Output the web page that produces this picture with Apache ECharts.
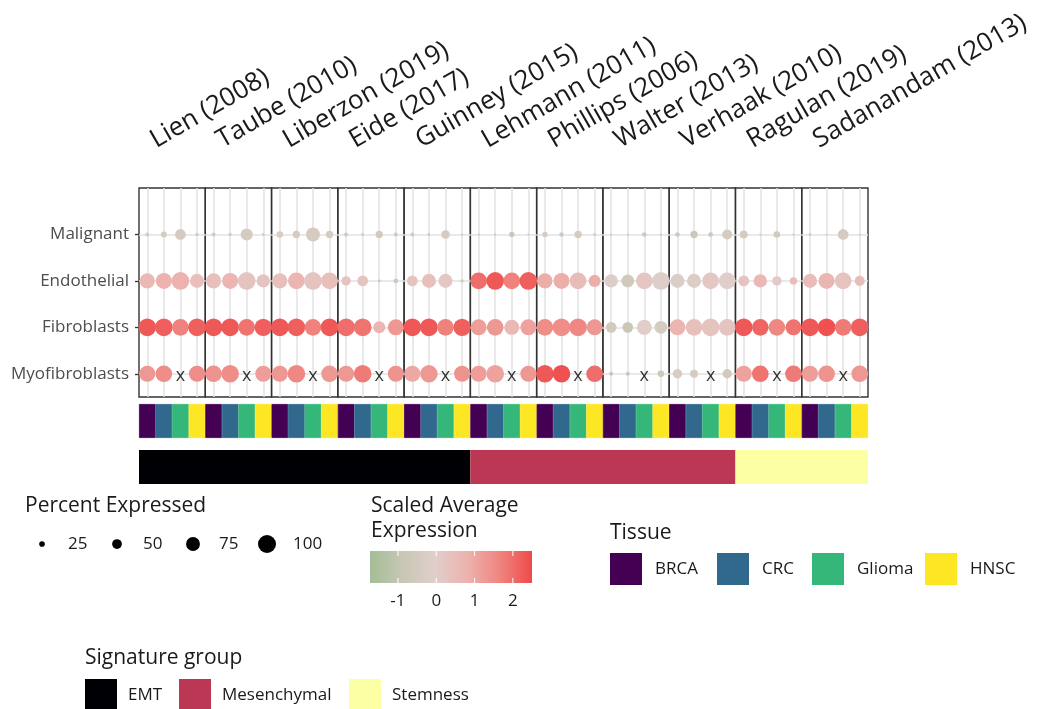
<!DOCTYPE html>
<html>
<head>
<meta charset="utf-8">
<script src="https://cdn.jsdelivr.net/npm/echarts@6/dist/echarts.min.js"></script>
<style>
html,body{margin:0;padding:0;background:#fff;}
#chart{width:1037px;height:709px;}
</style>
</head>
<body>
<div id="chart"></div>
<script>
// ---------------- DATA ----------------
const studies = ['Lien (2008)','Taube (2010)','Liberzon (2019)','Eide (2017)','Guinney (2015)','Lehmann (2011)','Phillips (2006)','Walter (2013)','Verhaak (2010)','Ragulan (2019)','Sadanandam (2013)'];
const studyGroups = ['EMT','EMT','EMT','EMT','EMT','Mesenchymal','Mesenchymal','Mesenchymal','Mesenchymal','Stemness','Stemness'];
const tissues = ['BRCA','CRC','Glioma','HNSC'];
// rows from bottom to top
const cellTypes = ['Myofibroblasts','Fibroblasts','Endothelial','Malignant'];

// percent expressed, per study: [BRCA, CRC, Glioma, HNSC]
const pctMalignant = [
  15,27,56,11,  15,11,64,7,  31,35,76,35,  15,7,35,15,  15,7,43,3,
  2,3,23,2,  23,19,35,7,  2,3,19,3,  19,35,19,52,  39,3,31,3,  7,2,56,2];
const expMalignant = [
  -0.4,-0.4,-0.4,-0.5,  -0.5,-0.5,-0.4,-0.6,  -0.3,-0.4,-0.4,-0.4,  -0.5,-0.6,-0.5,-0.6,  -0.5,-0.7,-0.4,-0.7,
  -1.0,-0.9,-0.8,-0.9,  -0.4,-0.5,-0.4,-0.6,  -1.0,-1.0,-0.6,-1.0,  -0.6,-0.7,-0.7,-0.4,  -0.4,-0.6,-0.5,-0.6,  -0.6,-0.7,-0.4,-0.7];

const pctEndothelial = [
  82,88,98,76,  82,88,98,72,  82,92,98,92,  48,56,7,19,  56,76,76,11,
  92,98,92,98,  82,88,92,64,  72,68,92,98,  76,76,92,92,  56,72,48,35,  76,88,92,52];
const expEndothelial = [
  0.6,0.8,0.8,0.4,  0.4,0.7,0.3,0.3,  0.4,0.7,0.3,0.4,  0.3,0.3,-0.8,-0.6,  0.3,0.4,0.2,-0.5,
  2.0,2.3,1.7,2.2,  0.9,0.9,0.5,0.9,  -0.2,-0.6,0.2,-0.1,  -0.2,-0.2,0.2,0.0,  0.3,0.6,0.1,0.5,  0.5,0.7,0.3,0.5];

const pctFibroblasts = [
  98,98,92,98,  98,98,92,96,  98,98,92,98,  98,98,64,88,  98,98,92,96,
  88,92,82,88,  92,98,98,88,  56,56,82,68,  88,92,98,92,  98,92,92,88,  98,98,92,98];
const expFibroblasts = [
  2.3,2.2,1.7,2.2,  2.3,2.3,1.9,2.2,  2.3,2.2,1.7,2.3,  2.0,1.9,0.7,1.3,  2.3,2.3,1.7,2.2,
  1.2,1.3,0.6,1.1,  1.5,1.5,1.6,1.3,  -0.5,-0.8,0.0,-0.4,  0.7,0.4,0.3,0.3,  2.3,2.1,1.6,1.9,  2.3,2.4,1.8,2.2];

const pctMyofibroblasts = [
  88,92,null,88,  92,98,null,88,  88,98,null,92,  88,98,null,88,  88,96,null,88,
  88,98,null,88,  98,98,null,92,  15,15,null,31,  48,39,null,48,  88,92,null,92,  88,92,null,92];
const expMyofibroblasts = [
  1.3,1.5,null,1.5,  1.4,1.5,null,1.2,  1.3,1.6,null,1.3,  1.3,1.8,null,1.4,  1.0,1.3,null,1.4,
  1.2,1.1,null,1.3,  2.3,2.4,null,2.0,  -0.8,-0.8,null,-0.7,  -0.3,-0.4,null,-0.5,  1.1,1.9,null,1.8,  1.2,1.4,null,1.3];

// legend values
const sizeLegendValues = [25, 50, 75, 100];
const colorTicks = [-1, 0, 1, 2];
const groupNames = ['EMT','Mesenchymal','Stemness'];

// ---------------- STYLE ----------------
const FONT = '"Open Sans", "Noto Sans", sans-serif';
const expMin = -1.73, expMax = 2.5;
const expColors = ['#A3BE97','#C8C6B4','#E0CFCB','#EDB2AE','#EF8580','#EE4A4A'];
const tissueColors = {BRCA:'#440154', CRC:'#31688E', Glioma:'#35B779', HNSC:'#FDE725'};
const groupColors = {EMT:'#000004', Mesenchymal:'#BB3754', Stemness:'#FCFFA4'};
const sizeOf = p => 1.5 + 0.165 * p;

const LEFT = 139, PLOT_W = 729, PW = PLOT_W / studies.length;
const TOP = 188, PH = 209;

const rowPct = [pctMyofibroblasts, pctFibroblasts, pctEndothelial, pctMalignant];
const rowExp = [expMyofibroblasts, expFibroblasts, expEndothelial, expMalignant];

const grids = [], xAxes = [], yAxes = [], series = [], dotSeriesIdx = [];

studies.forEach((s, i) => {
  grids.push({left: LEFT + i * PW, top: TOP, width: PW, height: PH, show: true,
    borderColor: '#333', borderWidth: 1.4, backgroundColor: 'transparent'});
  xAxes.push({gridIndex: i, type: 'value', min: 0.5, max: 4.5, show: false});
  yAxes.push({gridIndex: i, type: 'value', min: 0.5, max: 5, show: i === 0,
    axisLine: {show: false}, splitLine: {show: false},
    axisTick: {show: true, length: 4, customValues: [1,2,3,4], lineStyle: {color: '#333', width: 1.3}},
    axisLabel: {show: true, customValues: [1,2,3,4], margin: 10, fontSize: 17, fontFamily: FONT, color: '#4D4D4D',
      formatter: v => (Number.isInteger(v) && v >= 1 && v <= 4) ? cellTypes[v - 1] : ''}});
  const pts = [], missing = [];
  for (let r = 0; r < 4; r++) {
    for (let c = 0; c < 4; c++) {
      const k = i * 4 + c;
      const p = rowPct[r][k];
      if (p === null) missing.push([c + 1, r + 1]);
      else pts.push([c + 1, r + 1, p, rowExp[r][k]]);
    }
  }
  const ml = [];
  for (let c = 1; c <= 4; c++) ml.push({xAxis: c});
  for (let r = 1; r <= 4; r++) ml.push({yAxis: r});
  dotSeriesIdx.push(series.length);
  series.push({type: 'scatter', xAxisIndex: i, yAxisIndex: i, data: pts, z: 3,
    symbolSize: v => sizeOf(v[2]), itemStyle: {opacity: 1},
    markLine: {silent: true, z: 1, symbol: 'none', animation: false, label: {show: false},
      lineStyle: {color: '#E2E2E2', width: 1.5, type: 'solid'}, emphasis: {disabled: true}, data: ml}});
  series.push({type: 'scatter', xAxisIndex: i, yAxisIndex: i, data: missing, z: 4,
    symbolSize: 1, itemStyle: {color: 'rgba(0,0,0,0)'},
    label: {show: true, position: 'inside', formatter: 'x', fontSize: 18, fontFamily: FONT, color: '#000', offset: [0, 2]}});
});

// tissue bar
const tissueCats = [], tissueData = [];
studies.forEach(s => tissues.forEach(t => {
  tissueCats.push(s + ' ' + t);
  tissueData.push({value: 1, itemStyle: {color: tissueColors[t], borderColor: tissueColors[t], borderWidth: 0.8}});
}));
const gT = grids.length;
grids.push({left: LEFT, top: 404, width: PLOT_W, height: 34});
xAxes.push({gridIndex: gT, type: 'category', data: tissueCats, show: false, boundaryGap: true});
yAxes.push({gridIndex: gT, type: 'value', min: 0, max: 1, show: false});
series.push({type: 'bar', xAxisIndex: gT, yAxisIndex: gT, data: tissueData, barWidth: '100%', barCategoryGap: '0%'});

// signature group bar: horizontal stacked bar, one segment per group (study counts)
const gS = grids.length;
grids.push({left: LEFT, top: 450, width: PLOT_W, height: 34});
xAxes.push({gridIndex: gS, type: 'value', min: 0, max: studies.length, show: false});
yAxes.push({gridIndex: gS, type: 'category', data: ['group'], show: false, boundaryGap: true});
groupNames.forEach(g => {
  series.push({type: 'bar', name: g, xAxisIndex: gS, yAxisIndex: gS, stack: 'sig', barWidth: '100%',
    data: [studyGroups.filter(x => x === g).length],
    itemStyle: {color: groupColors[g]}});
});

// ---------------- GRAPHIC (labels & legends) ----------------
const graphic = [];
const txt = (x, y, text, size, opts = {}) => ({type: 'text', x, y, rotation: opts.rotation || 0, silent: true,
  style: {text, fontSize: size, fontFamily: FONT, fill: opts.fill || '#1a1a1a',
    textAlign: opts.align || 'left', align: opts.align || 'left',
    textVerticalAlign: opts.valign || 'middle', verticalAlign: opts.valign || 'middle'}});

// study labels (rotated)
studies.forEach((s, i) => {
  graphic.push(txt(LEFT + (i + 0.5) * PW - 13, 153, s, 26, {rotation: Math.PI / 6, valign: 'bottom'}));
});

// size legend
graphic.push(txt(25, 506, 'Percent Expressed', 21));
const sizeX = [42, 117, 193, 267];
sizeLegendValues.forEach((v, j) => {
  graphic.push({type: 'circle', silent: true, shape: {cx: sizeX[j], cy: 544, r: sizeOf(v) / 2}, style: {fill: '#000'}});
  graphic.push(txt(sizeX[j] + 26, 544, String(v), 17));
});

// color legend
graphic.push(txt(371, 506, 'Scaled Average', 21));
graphic.push(txt(371, 531, 'Expression', 21));
const cbX = 370, cbY = 551, cbW = 162, cbH = 32;
graphic.push({type: 'rect', silent: true, shape: {x: cbX, y: cbY, width: cbW, height: cbH},
  style: {fill: new echarts.graphic.LinearGradient(0, 0, 1, 0,
    expColors.map((c, k) => ({offset: k / (expColors.length - 1), color: c})))}});
colorTicks.forEach(v => {
  const x = cbX + (v - expMin) / (expMax - expMin) * cbW;
  graphic.push({type: 'line', silent: true, shape: {x1: x, y1: cbY, x2: x, y2: cbY + 5}, style: {stroke: '#fff', lineWidth: 1}});
  graphic.push({type: 'line', silent: true, shape: {x1: x, y1: cbY + cbH - 5, x2: x, y2: cbY + cbH}, style: {stroke: '#fff', lineWidth: 1}});
  graphic.push(txt(x, 601, String(v), 17, {align: 'center'}));
});

// tissue legend
graphic.push(txt(610, 533, 'Tissue', 21));
const tBoxX = [610, 717, 812, 925];
tissues.forEach((t, j) => {
  graphic.push({type: 'rect', silent: true, shape: {x: tBoxX[j], y: 553, width: 32, height: 32}, style: {fill: tissueColors[t]}});
  graphic.push(txt(tBoxX[j] + 45, 569, t, 17));
});

// signature group legend
graphic.push(txt(85, 658, 'Signature group', 21));
const gBoxX = [85, 179, 349];
groupNames.forEach((g, j) => {
  graphic.push({type: 'rect', silent: true, shape: {x: gBoxX[j], y: 679, width: 32, height: 32},
    style: {fill: groupColors[g]}});
  graphic.push(txt(gBoxX[j] + 43, 695, g, 17));
});

const chart = echarts.init(document.getElementById('chart'), null, {renderer: 'canvas'});
chart.setOption({
  backgroundColor: '#fff',
  animation: false,
  grid: grids,
  xAxis: xAxes,
  yAxis: yAxes,
  visualMap: {type: 'continuous', show: false, dimension: 3, min: expMin, max: expMax,
    seriesIndex: dotSeriesIdx, inRange: {color: expColors}},
  series,
  graphic
});
</script>
</body>
</html>
